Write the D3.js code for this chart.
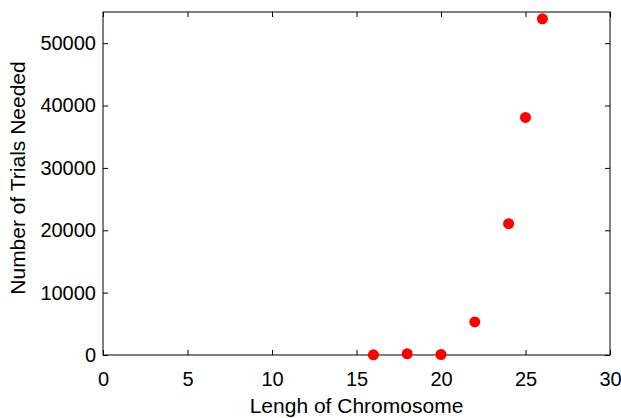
<!DOCTYPE html>
<html>
<head>
<meta charset="utf-8">
<script src="https://cdn.jsdelivr.net/npm/d3@7"></script>
<style>
  body { margin: 0; background: #fff; }
  svg text { font-family: "Liberation Sans", Arial, sans-serif; }
</style>
</head>
<body>
<div id="chart"></div>
<script>
// Chromosome length vs trials needed
const lengths = [16, 18, 20, 22, 24, 25, 26];
const trials = [30, 200, 80, 5300, 21050, 38100, 53900];
const xTicks = [0, 5, 10, 15, 20, 25, 30];
const yTicks = [0, 10000, 20000, 30000, 40000, 50000];

const width = 621, height = 418;
const margin = { top: 12, right: 11, bottom: 63, left: 103 };

const svg = d3.select("#chart").append("svg")
  .attr("width", width)
  .attr("height", height);

const x = d3.scaleLinear().domain([0, 30]).range([margin.left, width - margin.right]);
const y = d3.scaleLinear().domain([0, 55000]).range([height - margin.bottom, margin.top]);

// Frame
svg.append("rect")
  .attr("x", x(0)).attr("y", y(55000))
  .attr("width", x(30) - x(0)).attr("height", y(0) - y(55000))
  .attr("fill", "none").attr("stroke", "#000").attr("stroke-width", 1);

// Axes with inward ticks
const tl = 5;
const fmt = d3.format("d");
const xAxis = svg.append("g").attr("transform", `translate(0,${y(0)})`)
  .call(d3.axisBottom(x).tickValues(xTicks).tickSizeInner(-tl).tickSizeOuter(0).tickPadding(17).tickFormat(fmt));
const xTop = svg.append("g").attr("transform", `translate(0,${y(55000)})`)
  .call(d3.axisTop(x).tickValues(xTicks).tickSizeInner(-tl).tickSizeOuter(0).tickFormat(""));
const yAxis = svg.append("g").attr("transform", `translate(${x(0)},0)`)
  .call(d3.axisLeft(y).tickValues(yTicks).tickSizeInner(-tl).tickSizeOuter(0).tickPadding(7).tickFormat(fmt));
const yRight = svg.append("g").attr("transform", `translate(${x(30)},0)`)
  .call(d3.axisRight(y).tickValues(yTicks).tickSizeInner(-tl).tickSizeOuter(0).tickFormat(""));

[xAxis, xTop, yAxis, yRight].forEach(g => {
  g.select(".domain").remove();
  g.selectAll("text").attr("font-size", 20).attr("fill", "#000");
  g.selectAll("line").attr("stroke", "#000");
});

// Points
svg.selectAll(".pt")
  .data(lengths)
  .join("circle")
  .attr("class", "pt")
  .attr("cx", d => x(d))
  .attr("cy", (d, i) => y(trials[i]))
  .attr("r", 5.5)
  .attr("fill", "#ff0000");

// Axis labels
svg.append("text")
  .attr("x", (x(0) + x(30)) / 2)
  .attr("y", 413)
  .attr("text-anchor", "middle")
  .attr("font-size", 21)
  .text("Lengh of Chromosome");

svg.append("text")
  .attr("transform", "translate(25,178) rotate(-90)")
  .attr("text-anchor", "middle")
  .attr("font-size", 21)
  .text("Number of Trials Needed");
</script>
</body>
</html>
